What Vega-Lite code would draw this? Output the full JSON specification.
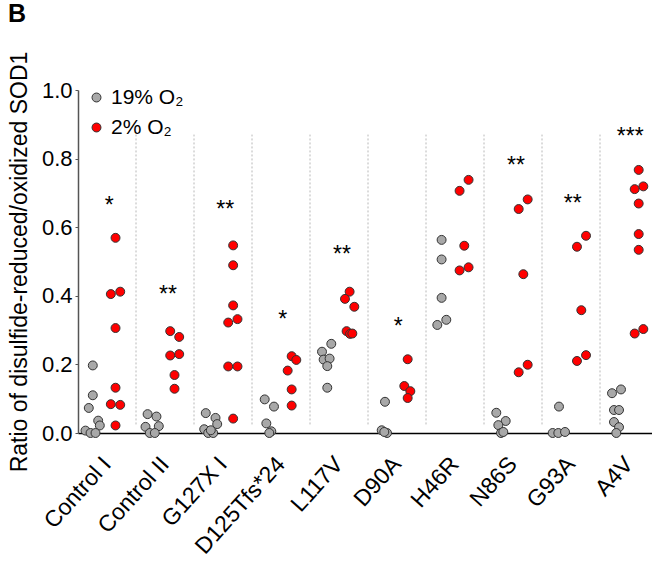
{
  "$schema": "https://vega.github.io/schema/vega-lite/v6.json",
  "autosize": "none",
  "width": 574,
  "height": 343,
  "padding": {"left": 78, "top": 90, "right": 0, "bottom": 132},
  "background": "white",
  "config": {
    "font": "Liberation Sans",
    "view": {"stroke": null}
  },
  "title": {
    "text": "B",
    "anchor": "start",
    "frame": "group",
    "fontSize": 25,
    "fontWeight": "bold",
    "color": "#000",
    "dx": -70,
    "offset": 24
  },
  "datasets": {
    "pts": [
      {"g": "Control I", "c": "19% O₂", "v": 0.197, "j": -0.245},
      {"g": "Control I", "c": "19% O₂", "v": 0.110, "j": -0.245},
      {"g": "Control I", "c": "19% O₂", "v": 0.073, "j": -0.314},
      {"g": "Control I", "c": "19% O₂", "v": 0.036, "j": -0.152},
      {"g": "Control I", "c": "19% O₂", "v": 0.022, "j": -0.124},
      {"g": "Control I", "c": "19% O₂", "v": 0.007, "j": -0.371},
      {"g": "Control I", "c": "19% O₂", "v": 0.0, "j": -0.284},
      {"g": "Control I", "c": "19% O₂", "v": 0.0, "j": -0.198},
      {"g": "Control I", "c": "2% O₂", "v": 0.569, "j": 0.147},
      {"g": "Control I", "c": "2% O₂", "v": 0.405, "j": 0.066},
      {"g": "Control I", "c": "2% O₂", "v": 0.412, "j": 0.228},
      {"g": "Control I", "c": "2% O₂", "v": 0.306, "j": 0.147},
      {"g": "Control I", "c": "2% O₂", "v": 0.132, "j": 0.147},
      {"g": "Control I", "c": "2% O₂", "v": 0.084, "j": 0.066},
      {"g": "Control I", "c": "2% O₂", "v": 0.082, "j": 0.228},
      {"g": "Control I", "c": "2% O₂", "v": 0.022, "j": 0.147},

      {"g": "Control II", "c": "19% O₂", "v": 0.055, "j": -0.300},
      {"g": "Control II", "c": "19% O₂", "v": 0.048, "j": -0.147},
      {"g": "Control II", "c": "19% O₂", "v": 0.020, "j": -0.107},
      {"g": "Control II", "c": "19% O₂", "v": 0.018, "j": -0.336},
      {"g": "Control II", "c": "19% O₂", "v": 0.0, "j": -0.262},
      {"g": "Control II", "c": "19% O₂", "v": 0.0, "j": -0.176},
      {"g": "Control II", "c": "2% O₂", "v": 0.297, "j": 0.090},
      {"g": "Control II", "c": "2% O₂", "v": 0.280, "j": 0.245},
      {"g": "Control II", "c": "2% O₂", "v": 0.226, "j": 0.090},
      {"g": "Control II", "c": "2% O₂", "v": 0.230, "j": 0.245},
      {"g": "Control II", "c": "2% O₂", "v": 0.169, "j": 0.164},
      {"g": "Control II", "c": "2% O₂", "v": 0.129, "j": 0.164},

      {"g": "G127X I", "c": "19% O₂", "v": 0.058, "j": -0.297},
      {"g": "G127X I", "c": "19% O₂", "v": 0.044, "j": -0.129},
      {"g": "G127X I", "c": "19% O₂", "v": 0.026, "j": -0.100},
      {"g": "G127X I", "c": "19% O₂", "v": 0.011, "j": -0.324},
      {"g": "G127X I", "c": "19% O₂", "v": 0.0, "j": -0.255},
      {"g": "G127X I", "c": "19% O₂", "v": 0.0, "j": -0.169},
      {"g": "G127X I", "c": "19% O₂", "v": 0.008, "j": -0.210},
      {"g": "G127X I", "c": "2% O₂", "v": 0.547, "j": 0.175},
      {"g": "G127X I", "c": "2% O₂", "v": 0.489, "j": 0.175},
      {"g": "G127X I", "c": "2% O₂", "v": 0.372, "j": 0.175},
      {"g": "G127X I", "c": "2% O₂", "v": 0.322, "j": 0.090},
      {"g": "G127X I", "c": "2% O₂", "v": 0.332, "j": 0.250},
      {"g": "G127X I", "c": "2% O₂", "v": 0.194, "j": 0.090},
      {"g": "G127X I", "c": "2% O₂", "v": 0.194, "j": 0.250},
      {"g": "G127X I", "c": "2% O₂", "v": 0.042, "j": 0.175},

      {"g": "D125Tfs*24", "c": "19% O₂", "v": 0.098, "j": -0.281},
      {"g": "D125Tfs*24", "c": "19% O₂", "v": 0.077, "j": -0.121},
      {"g": "D125Tfs*24", "c": "19% O₂", "v": 0.028, "j": -0.253},
      {"g": "D125Tfs*24", "c": "19% O₂", "v": 0.005, "j": -0.167},
      {"g": "D125Tfs*24", "c": "19% O₂", "v": 0.0, "j": -0.202},
      {"g": "D125Tfs*24", "c": "2% O₂", "v": 0.224, "j": 0.184},
      {"g": "D125Tfs*24", "c": "2% O₂", "v": 0.213, "j": 0.264},
      {"g": "D125Tfs*24", "c": "2% O₂", "v": 0.182, "j": 0.115},
      {"g": "D125Tfs*24", "c": "2% O₂", "v": 0.127, "j": 0.184},
      {"g": "D125Tfs*24", "c": "2% O₂", "v": 0.080, "j": 0.184},

      {"g": "L117V", "c": "19% O₂", "v": 0.260, "j": -0.133},
      {"g": "L117V", "c": "19% O₂", "v": 0.237, "j": -0.293},
      {"g": "L117V", "c": "19% O₂", "v": 0.214, "j": -0.265},
      {"g": "L117V", "c": "19% O₂", "v": 0.217, "j": -0.162},
      {"g": "L117V", "c": "19% O₂", "v": 0.195, "j": -0.202},
      {"g": "L117V", "c": "19% O₂", "v": 0.132, "j": -0.202},
      {"g": "L117V", "c": "2% O₂", "v": 0.412, "j": 0.183},
      {"g": "L117V", "c": "2% O₂", "v": 0.391, "j": 0.103},
      {"g": "L117V", "c": "2% O₂", "v": 0.368, "j": 0.264},
      {"g": "L117V", "c": "2% O₂", "v": 0.297, "j": 0.131},
      {"g": "L117V", "c": "2% O₂", "v": 0.289, "j": 0.190},
      {"g": "L117V", "c": "2% O₂", "v": 0.290, "j": 0.230},

      {"g": "D90A", "c": "19% O₂", "v": 0.091, "j": -0.207},
      {"g": "D90A", "c": "19% O₂", "v": 0.008, "j": -0.264},
      {"g": "D90A", "c": "19% O₂", "v": 0.0, "j": -0.172},
      {"g": "D90A", "c": "19% O₂", "v": 0.003, "j": -0.219},
      {"g": "D90A", "c": "2% O₂", "v": 0.215, "j": 0.184},
      {"g": "D90A", "c": "2% O₂", "v": 0.137, "j": 0.126},
      {"g": "D90A", "c": "2% O₂", "v": 0.122, "j": 0.230},
      {"g": "D90A", "c": "2% O₂", "v": 0.102, "j": 0.184},

      {"g": "H46R", "c": "19% O₂", "v": 0.563, "j": -0.231},
      {"g": "H46R", "c": "19% O₂", "v": 0.506, "j": -0.231},
      {"g": "H46R", "c": "19% O₂", "v": 0.394, "j": -0.231},
      {"g": "H46R", "c": "19% O₂", "v": 0.330, "j": -0.150},
      {"g": "H46R", "c": "19% O₂", "v": 0.315, "j": -0.305},
      {"g": "H46R", "c": "2% O₂", "v": 0.738, "j": 0.234},
      {"g": "H46R", "c": "2% O₂", "v": 0.706, "j": 0.079},
      {"g": "H46R", "c": "2% O₂", "v": 0.546, "j": 0.160},
      {"g": "H46R", "c": "2% O₂", "v": 0.474, "j": 0.079},
      {"g": "H46R", "c": "2% O₂", "v": 0.483, "j": 0.234},

      {"g": "N86S", "c": "19% O₂", "v": 0.059, "j": -0.288},
      {"g": "N86S", "c": "19% O₂", "v": 0.035, "j": -0.126},
      {"g": "N86S", "c": "19% O₂", "v": 0.023, "j": -0.253},
      {"g": "N86S", "c": "19% O₂", "v": 0.0, "j": -0.207},
      {"g": "N86S", "c": "19% O₂", "v": 0.003, "j": -0.167},
      {"g": "N86S", "c": "2% O₂", "v": 0.681, "j": 0.253},
      {"g": "N86S", "c": "2% O₂", "v": 0.653, "j": 0.098},
      {"g": "N86S", "c": "2% O₂", "v": 0.463, "j": 0.178},
      {"g": "N86S", "c": "2% O₂", "v": 0.199, "j": 0.253},
      {"g": "N86S", "c": "2% O₂", "v": 0.177, "j": 0.098},

      {"g": "G93A", "c": "19% O₂", "v": 0.077, "j": -0.207},
      {"g": "G93A", "c": "19% O₂", "v": 0.0, "j": -0.316},
      {"g": "G93A", "c": "19% O₂", "v": 0.0, "j": -0.219},
      {"g": "G93A", "c": "19% O₂", "v": 0.003, "j": -0.103},
      {"g": "G93A", "c": "2% O₂", "v": 0.575, "j": 0.259},
      {"g": "G93A", "c": "2% O₂", "v": 0.543, "j": 0.103},
      {"g": "G93A", "c": "2% O₂", "v": 0.358, "j": 0.178},
      {"g": "G93A", "c": "2% O₂", "v": 0.227, "j": 0.259},
      {"g": "G93A", "c": "2% O₂", "v": 0.210, "j": 0.103},

      {"g": "A4V", "c": "19% O₂", "v": 0.127, "j": -0.138},
      {"g": "A4V", "c": "19% O₂", "v": 0.116, "j": -0.293},
      {"g": "A4V", "c": "19% O₂", "v": 0.067, "j": -0.259},
      {"g": "A4V", "c": "19% O₂", "v": 0.067, "j": -0.172},
      {"g": "A4V", "c": "19% O₂", "v": 0.032, "j": -0.259},
      {"g": "A4V", "c": "19% O₂", "v": 0.017, "j": -0.172},
      {"g": "A4V", "c": "19% O₂", "v": 0.0, "j": -0.219},
      {"g": "A4V", "c": "2% O₂", "v": 0.767, "j": 0.167},
      {"g": "A4V", "c": "2% O₂", "v": 0.711, "j": 0.098},
      {"g": "A4V", "c": "2% O₂", "v": 0.719, "j": 0.247},
      {"g": "A4V", "c": "2% O₂", "v": 0.669, "j": 0.167},
      {"g": "A4V", "c": "2% O₂", "v": 0.580, "j": 0.167},
      {"g": "A4V", "c": "2% O₂", "v": 0.534, "j": 0.167},
      {"g": "A4V", "c": "2% O₂", "v": 0.290, "j": 0.098},
      {"g": "A4V", "c": "2% O₂", "v": 0.303, "j": 0.247}
    ],
    "stars": [
      {"g": "Control I", "s": "*", "v": 0.679, "j": 0.04},
      {"g": "Control II", "s": "**", "v": 0.419, "j": 0.05},
      {"g": "G127X I", "s": "**", "v": 0.668, "j": 0.04},
      {"g": "D125Tfs*24", "s": "*", "v": 0.346, "j": 0.03},
      {"g": "L117V", "s": "**", "v": 0.536, "j": 0.05},
      {"g": "D90A", "s": "*", "v": 0.327, "j": 0.02},
      {"g": "N86S", "s": "**", "v": 0.796, "j": 0.05},
      {"g": "G93A", "s": "**", "v": 0.684, "j": 0.03},
      {"g": "A4V", "s": "***", "v": 0.881, "j": 0.02}
    ],
    "seps": [
      {"g": "Control II"}, {"g": "G127X I"}, {"g": "D125Tfs*24"}, {"g": "L117V"},
      {"g": "D90A"}, {"g": "H46R"}, {"g": "N86S"}, {"g": "G93A"}, {"g": "A4V"}
    ]
  },
  "layer": [
    {
      "data": {"name": "seps"},
      "mark": {"type": "rule", "color": "#b8b8b8", "strokeWidth": 1, "strokeDash": [2, 2]},
      "encoding": {
        "x": {"field": "g", "type": "nominal", "bandPosition": 0},
        "y": {"datum": 0.025, "type": "quantitative"},
        "y2": {"datum": 0.87}
      }
    },
    {
      "data": {"name": "pts"},
      "mark": {"type": "point", "filled": true, "size": 80, "opacity": 1, "stroke": "#333333", "strokeWidth": 1},
      "encoding": {
        "x": {
          "field": "g", "type": "nominal",
          "sort": ["Control I", "Control II", "G127X I", "D125Tfs*24", "L117V", "D90A", "H46R", "N86S", "G93A", "A4V"],
          "scale": {
            "domain": ["Control I", "Control II", "G127X I", "D125Tfs*24", "L117V", "D90A", "H46R", "N86S", "G93A", "A4V"],
            "range": [0, 580],
            "paddingInner": 0, "paddingOuter": 0
          },
          "axis": {
            "title": null,
            "ticks": false,
            "domainColor": "#000000",
            "domainWidth": 1.5,
            "labelAngle": -48,
            "labelAlign": "right",
            "labelBaseline": "middle",
            "labelFontSize": 23,
            "labelColor": "#000000",
            "labelPadding": 27,
            "labelOverlap": false,
            "grid": false
          }
        },
        "xOffset": {"field": "j", "type": "quantitative", "scale": {"domain": [-0.5, 0.5], "range": [0, 58]}},
        "y": {
          "field": "v", "type": "quantitative",
          "scale": {"domain": [0, 1], "nice": false},
          "axis": {
            "title": "Ratio of disulfide-reduced/oxidized SOD1",
            "titleFontSize": 23,
            "titleFontWeight": "normal",
            "titleColor": "#000000",
            "titlePadding": 10,
            "values": [0, 0.2, 0.4, 0.6, 0.8, 1.0],
            "format": ".1f",
            "labelFontSize": 22,
            "labelColor": "#000000",
            "labelPadding": 3,
            "tickSize": 3,
            "tickColor": "#555555",
            "domainColor": "#555555",
            "domainWidth": 1.5,
            "grid": false
          }
        },
        "color": {
          "field": "c", "type": "nominal",
          "scale": {"domain": ["19% O₂", "2% O₂"], "range": ["#a8a8a8", "#ff0000"]},
          "legend": {
            "title": null,
            "orient": "none",
            "legendX": 8,
            "legendY": -3,
            "labelFontSize": 21,
            "labelColor": "#000000",
            "symbolType": "circle",
            "symbolSize": 80,
            "symbolStrokeColor": "#333333",
            "symbolStrokeWidth": 1,
            "symbolOpacity": 1,
            "rowPadding": 8,
            "labelOffset": 4
          }
        }
      }
    },
    {
      "data": {"name": "stars"},
      "mark": {"type": "text", "fontSize": 23, "color": "#000000", "baseline": "middle", "align": "center", "dy": 6},
      "encoding": {
        "x": {"field": "g", "type": "nominal"},
        "xOffset": {"field": "j", "type": "quantitative"},
        "y": {"field": "v", "type": "quantitative"},
        "text": {"field": "s"}
      }
    }
  ]
}
